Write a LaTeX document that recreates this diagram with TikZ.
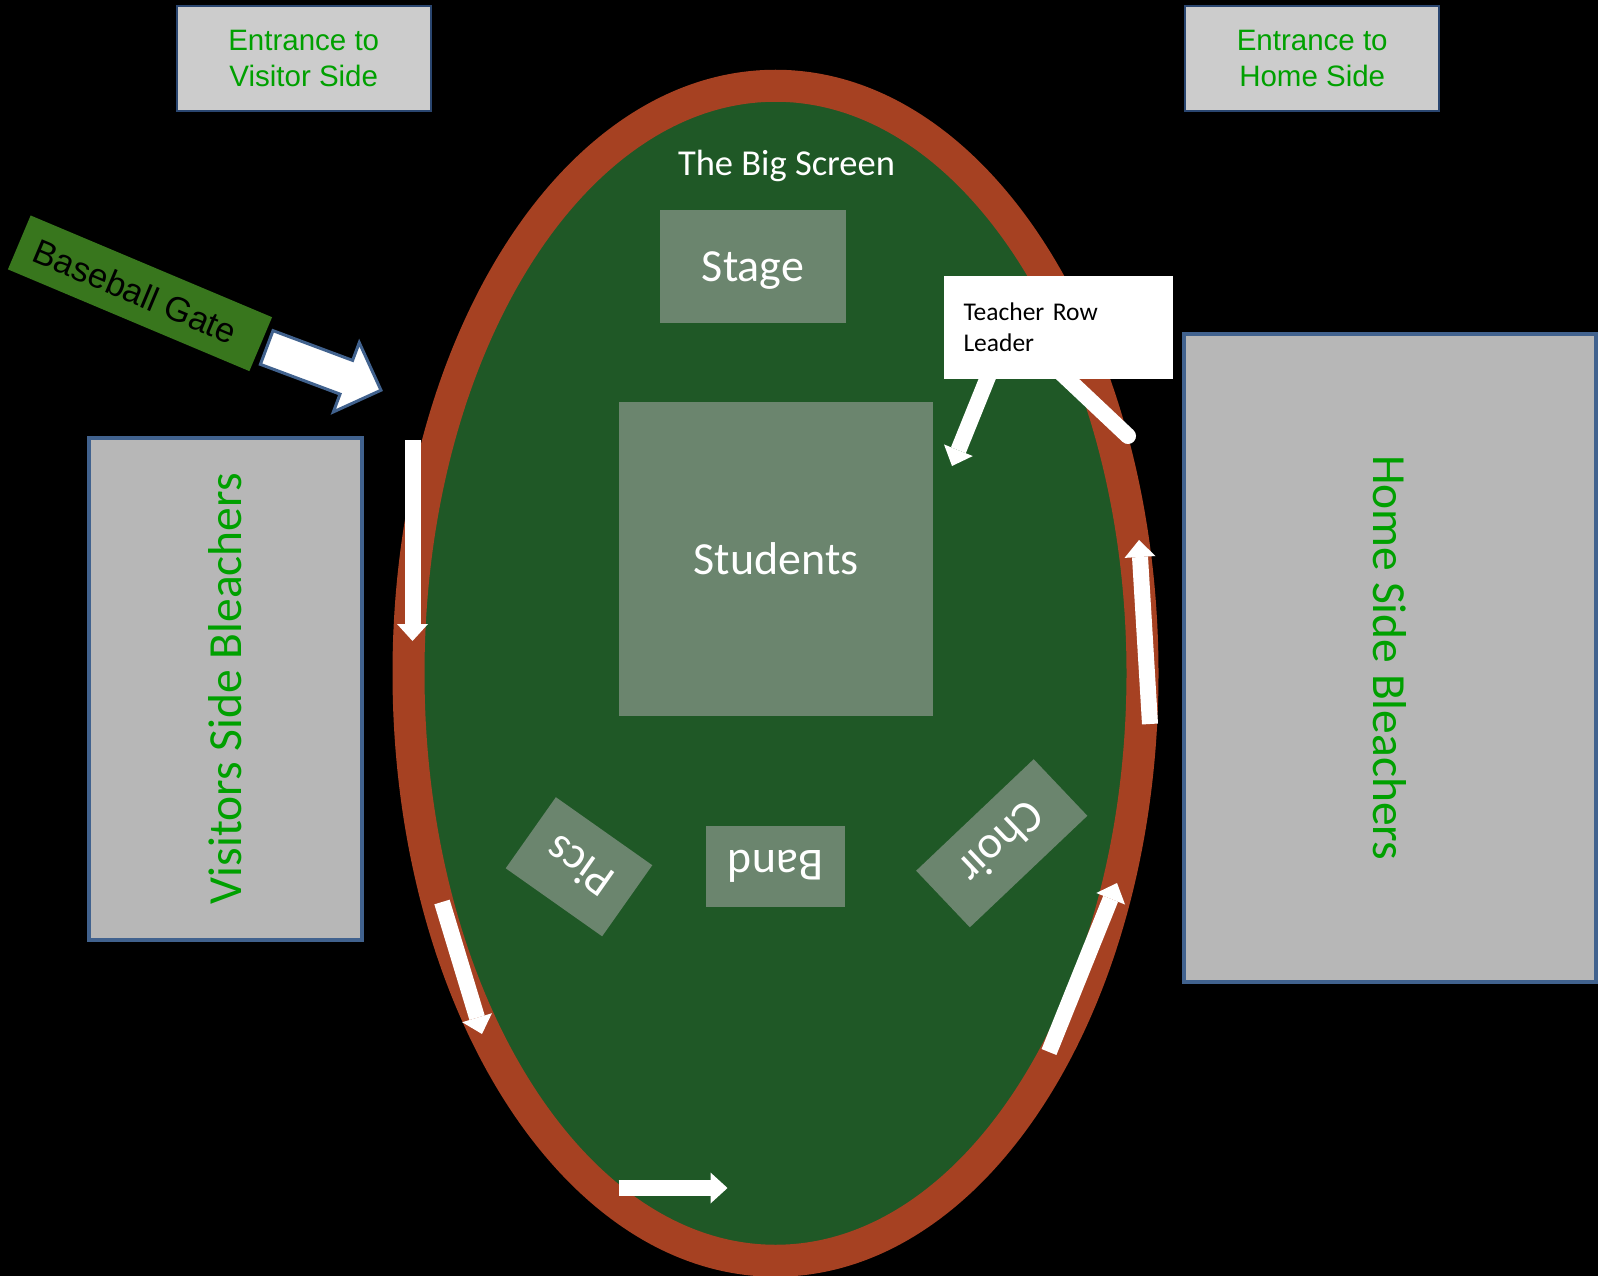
\documentclass[tikz,border=0pt]{standalone}
\usepackage{fontspec}
\setmainfont{Carlito}
\newfontfamily\arialfont{Liberation Sans}
\usetikzlibrary{arrows.meta,shapes,positioning,calc}
\definecolor{trackred}{RGB}{166,65,34}
\definecolor{fieldgreen}{RGB}{31,88,38}
\definecolor{spotfill}{RGB}{107,133,110}
\definecolor{gategreen}{RGB}{56,118,29}
\definecolor{signgreen}{RGB}{0,160,0}
\definecolor{entrancefill}{RGB}{204,204,204}
\definecolor{bleacherfill}{RGB}{183,183,183}
\definecolor{boxblue}{RGB}{65,98,142}
\definecolor{darkblue}{RGB}{42,70,112}
\tikzset{
    entrance/.style={
        rectangle,
        draw=darkblue,
        line width=2.5pt,
        fill=entrancefill,
        text=signgreen,
        align=center,
        inner sep=0pt,
        minimum width=254pt,
        minimum height=105pt,
        font=\arialfont\fontsize{29.5}{35.5}\selectfont,
    },
    bleacher/.style={
        rectangle,
        draw=boxblue,
        line width=4pt,
        fill=bleacherfill,
        text=signgreen,
        inner sep=0pt,
        font=\fontsize{47.5}{57}\selectfont,
    },
    spot/.style={
        rectangle,
        fill=spotfill,
        text=white,
        inner sep=0pt,
        text depth=0pt,
        font=\fontsize{46}{55}\selectfont,
    },
    gate/.style={
        rectangle,
        fill=gategreen,
        text=black,
        inner sep=0pt,
        font=\arialfont\fontsize{34.5}{41}\selectfont,
    },
    note/.style={
        rectangle,
        fill=white,
        text=black,
        align=left,
        inner sep=0pt,
        text width=190pt,
        minimum width=229pt,
        minimum height=103pt,
        font=\fontsize{25.5}{31}\selectfont,
    },
    track/.style={
        draw=trackred,
        fill=fieldgreen,
        line width=32pt,
    },
    gatearrow/.style={
        draw=boxblue,
        fill=white,
        line width=3pt,
    },
    runarrow/.style={
        draw=white,
        line width=16pt,
        -{Triangle[width=31pt,length=17pt,line width=0pt]},
    },
    leadline/.style={
        draw=white,
        line width=16pt,
        line cap=round,
    },
  }

\begin{document}
\begin{tikzpicture}[x=1pt,y=-1pt]
              \fill[black] (0,0) rectangle (1598,1276);
              \useasboundingbox (0,0) rectangle (1598,1276);

              \draw[track] (775.5,673.25) ellipse [x radius=367pt, y radius=587.5pt];

              \node [text=white,font=\fontsize{36.5}{44}\selectfont,anchor=base] (screen) at (786.5,175.7) {The Big Screen};
              \node [spot,minimum width=186pt,minimum height=113pt] (stage) at (753,266.5) {Stage};
              \node [spot,minimum width=314pt,minimum height=314pt] (students) at (776,559) {Students};
              \node [spot,rotate=180,minimum width=139pt,minimum height=81pt] (band) at (775.5,866) {Band};
              \node [spot,rotate=144.8,minimum width=118pt,minimum height=87pt] (pics) at (579,866.75) {Pics};
              \node [spot,rotate=223.5,minimum width=162pt,minimum height=78pt] (choir) at (1001.75,843.25) {Choir};

              \node [entrance] (visitgate) at (303.75,58.5) {Entrance to\\Visitor Side};
              \node [entrance] (homegate) at (1312.2,58.5) {Entrance to\\Home Side};

              \node [bleacher,rotate=90,minimum width=502pt,minimum height=273pt] (visitors) at (225.3,688.6) {Visitors Side Bleachers};
              \node [bleacher,rotate=-90,minimum width=647.5pt,minimum height=412pt] (home) at (1390,657.75) {Home Side Bleachers};

              \node [gate,rotate=-22.85,minimum width=262pt,minimum height=58.5pt] (baseball) at (140,293.3) {Baseball Gate\hspace*{10pt}};
              \begin{scope}[shift={(266.7,347.5)},rotate=-20.5]
                \draw[gatearrow] (0,-18) -- (85,-18) -- (85,-37) -- (122,0) -- (85,37) -- (85,18) -- (0,18) -- cycle;
              \end{scope}

              \coordinate (runA) at (412.5,440);
              \coordinate (runB) at (412.5,641);
              \coordinate (runC) at (442,902);
              \coordinate (runD) at (482,1034);
              \coordinate (runE) at (618.5,1188);
              \coordinate (runF) at (727.5,1188);
              \coordinate (runG) at (1049,1052);
              \coordinate (runH) at (1117,883);
              \coordinate (runI) at (1150,724);
              \coordinate (runJ) at (1139,540);
              \draw[runarrow] (runA) -- (runB);
              \draw[runarrow] (runC) -- (runD);
              \draw[runarrow] (runE) -- (runF);
              \draw[runarrow] (runG) -- (runH);
              \draw[runarrow] (runI) -- (runJ);

              \coordinate (leadA) at (990,372);
              \coordinate (leadB) at (952,466);
              \coordinate (leadC) at (1058,370);
              \coordinate (leadD) at (1128,436);
              \draw[runarrow] (leadA) -- (leadB);
              \draw[leadline] (leadC) -- (leadD);
              \node [note] (leader) at (1058.5,327.5) {Teacher Row\\Leader};
\end{tikzpicture}
\end{document}
